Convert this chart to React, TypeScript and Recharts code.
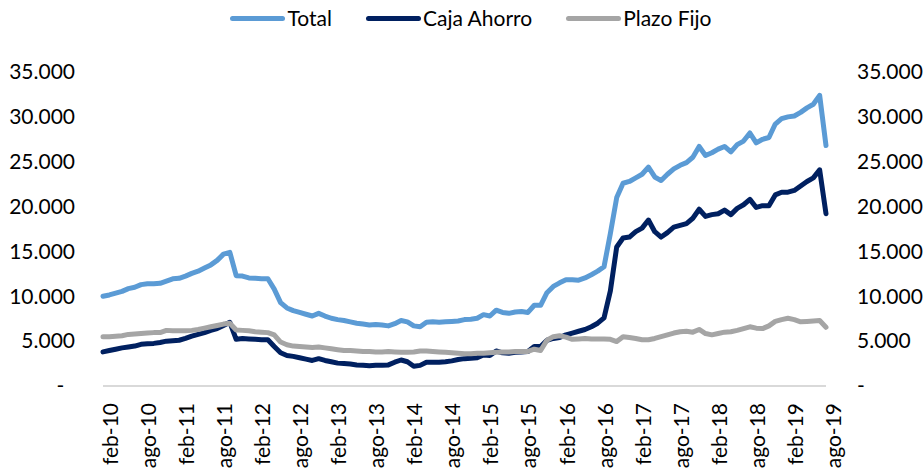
import { LineChart, Line, XAxis, YAxis } from "recharts";

const MESES = ["ene", "feb", "mar", "abr", "may", "jun", "jul", "ago", "sep", "oct", "nov", "dic"];

// depósitos mensuales, feb-10 a ago-19
const total = [
  10000, 10150, 10350, 10550, 10850, 11000, 11300, 11400, 11400, 11450, 11700,
  11950, 12000, 12250, 12550, 12800, 13150, 13500, 14000, 14700, 14900, 12300, 12250,
  12050, 12000, 11950, 11950, 10800, 9300, 8700, 8400, 8200, 8000, 7800, 8100,
  7800, 7550, 7400, 7300, 7150, 7000, 6900, 6800, 6850, 6800, 6700, 6950,
  7300, 7150, 6700, 6600, 7100, 7150, 7100, 7150, 7200, 7250, 7400, 7450,
  7550, 7950, 7800, 8450, 8200, 8100, 8250, 8300, 8200, 9000, 9000, 10400,
  11100, 11500, 11850, 11850, 11800, 12050, 12400, 12800, 13300, 17000, 21000, 22600,
  22800, 23200, 23600, 24400, 23300, 22900, 23600, 24200, 24600, 24900, 25500, 26700,
  25700, 26000, 26400, 26700, 26100, 26900, 27300, 28200, 27100, 27500, 27700, 29200,
  29800, 30000, 30100, 30500, 31000, 31400, 32400, 26800,
];

const cajaAhorro = [
  3800, 3950, 4100, 4250, 4350, 4450, 4650, 4700, 4750, 4850, 5000,
  5050, 5100, 5300, 5550, 5750, 5950, 6200, 6400, 6750, 7100, 5200, 5300,
  5250, 5200, 5150, 5150, 4400, 3700, 3400, 3300, 3150, 3000, 2850, 3050,
  2850, 2700, 2550, 2500, 2450, 2350, 2300, 2250, 2300, 2300, 2350, 2650,
  2900, 2700, 2200, 2300, 2650, 2650, 2650, 2700, 2800, 2950, 3050, 3100,
  3150, 3450, 3400, 3900, 3700, 3650, 3750, 3800, 3850, 4400, 4400, 5100,
  5300, 5400, 5700, 5900, 6100, 6300, 6600, 7000, 7600, 10600, 15500, 16500,
  16600, 17200, 17600, 18500, 17200, 16600, 17100, 17700, 17900, 18100, 18700, 19700,
  18900, 19100, 19200, 19600, 19100, 19800, 20200, 20800, 19900, 20100, 20100, 21300,
  21600, 21600, 21800, 22300, 22800, 23200, 24100, 19200,
];

const plazoFijo = [
  5500, 5500, 5550, 5600, 5750, 5800, 5850, 5900, 5950, 5950, 6200,
  6150, 6150, 6150, 6200, 6300, 6450, 6600, 6750, 6900, 7000, 6250, 6200,
  6150, 6050, 6000, 5950, 5700, 4900, 4600, 4450, 4400, 4350, 4300, 4350,
  4250, 4150, 4050, 3950, 3950, 3900, 3850, 3850, 3800, 3800, 3850, 3800,
  3750, 3750, 3800, 3900, 3900, 3850, 3800, 3750, 3700, 3650, 3600, 3600,
  3650, 3650, 3700, 3750, 3800, 3800, 3850, 3850, 3850, 4100, 3950, 5100,
  5500, 5600, 5450, 5200, 5250, 5300, 5250, 5250, 5250, 5200, 4950, 5500,
  5400, 5300, 5150, 5150, 5300, 5500, 5700, 5900, 6050, 6100, 6000, 6300,
  5850, 5700, 5850, 6000, 6050, 6200, 6400, 6600, 6450, 6400, 6700, 7200,
  7400, 7550, 7400, 7150, 7200, 7250, 7300, 6550,
];

const yTicks = [0, 5000, 10000, 15000, 20000, 25000, 30000, 35000];

// total va en el eje derecho (mismo rango) para que Recharts lo dibuje
const series = [
  { key: "total", name: "Total", color: "#5B9BD5", axis: "right" },
  { key: "caja", name: "Caja Ahorro", color: "#002060", axis: "left" },
  { key: "plazo", name: "Plazo Fijo", color: "#A5A5A5", axis: "left" },
];

const data = total.map((v, i) => ({
  mes: `${MESES[(i + 1) % 12]}-${10 + Math.floor((i + 1) / 12)}`,
  total: v,
  caja: cajaAhorro[i],
  plazo: plazoFijo[i],
}));

const FONT = "Lato, 'Noto Sans', sans-serif";

const fmt = (v: number) =>
  v === 0 ? "-\u00a0\u00a0" : String(v).replace(/\B(?=(\d{3})+(?!\d))/g, ".");

function YTick({ x, y, payload, anchor }: { x?: number; y?: number; payload?: { value: number }; anchor: "start" | "end" }) {
  if (!payload) return null;
  return (
    <text x={x} y={y} dy="0.35em" textAnchor={anchor} fill="#000" fontSize={21} fontFamily={FONT}>
      {fmt(payload.value)}
    </text>
  );
}

function ChartLegend() {
  return (
    <div
      style={{
        position: "absolute",
        top: 5,
        left: 0,
        width: 924,
        paddingLeft: 18,
        boxSizing: "border-box",
        display: "flex",
        justifyContent: "center",
        alignItems: "center",
        gap: 34,
        fontFamily: FONT,
        fontSize: 21,
        lineHeight: "26px",
        color: "#000",
      }}
    >
      {series.map((s) => (
        <span key={s.key} style={{ display: "flex", alignItems: "center" }}>
          <span
            style={{
              display: "inline-block",
              width: 55,
              height: 5,
              borderRadius: 3,
              background: s.color,
              marginRight: 2,
            }}
          />
          {s.name}
        </span>
      ))}
    </div>
  );
}

export default function App() {
  return (
    <div style={{ position: "absolute", left: 0, top: 0, width: 924, height: 472, background: "#fff" }}>
      <ChartLegend />
      <LineChart width={924} height={472} data={data} margin={{ top: 72, right: 0, bottom: 0, left: 0 }}>
        <XAxis
          dataKey="mes"
          interval={5}
          height={86}
          angle={-90}
          textAnchor="end"
          tickLine={false}
          tickSize={0}
          tickMargin={17}
          axisLine={{ stroke: "#D9D9D9", strokeWidth: 2 }}
          tick={{ fill: "#000", fontSize: 21, fontFamily: FONT }}
        />
        <YAxis
          yAxisId="left"
          width={103}
          domain={[0, 35000]}
          ticks={yTicks}
          interval={0}
          axisLine={false}
          tickLine={false}
          tickSize={0}
          tickMargin={28}
          tick={<YTick anchor="end" />}
        />
        <YAxis
          yAxisId="right"
          orientation="right"
          width={98}
          domain={[0, 35000]}
          ticks={yTicks}
          interval={0}
          axisLine={false}
          tickLine={false}
          tickSize={0}
          tickMargin={31}
          tick={<YTick anchor="start" />}
        />
        {series.map((s) => (
          <Line
            key={s.key}
            yAxisId={s.axis}
            dataKey={s.key}
            name={s.name}
            stroke={s.color}
            strokeWidth={5}
            strokeLinejoin="round"
            strokeLinecap="round"
            dot={false}
            activeDot={false}
            isAnimationActive={false}
          />
        ))}
      </LineChart>
    </div>
  );
}
